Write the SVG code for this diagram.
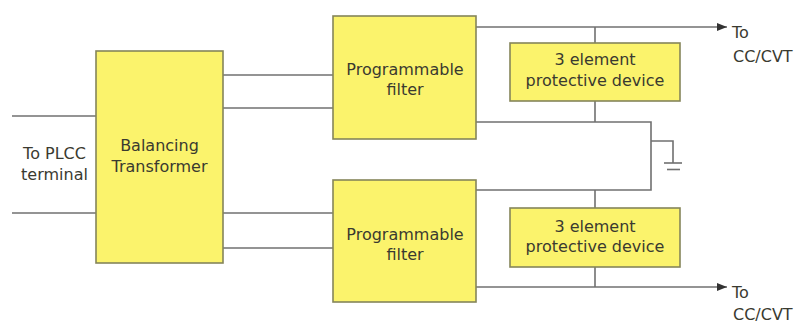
<svg xmlns="http://www.w3.org/2000/svg" width="804" height="323" viewBox="0 0 804 323">
<defs>
<style>
.box{fill:#fbf36c;stroke:#85855a;stroke-width:1.6}
.ln{fill:none;stroke:#707070;stroke-width:1.6}
.t{font-family:"DejaVu Sans",Verdana,sans-serif;font-size:16px;fill:#3a3a30;text-anchor:middle}
.tl{font-family:"DejaVu Sans",Verdana,sans-serif;font-size:16px;fill:#3a3a30}
</style>
<marker id="arr" viewBox="0 0 10 8" refX="10" refY="4" markerWidth="10" markerHeight="8" markerUnits="userSpaceOnUse" orient="auto">
<path d="M0,0 L10,4 L0,8 Z" fill="#333"/>
</marker>
</defs>
<rect width="804" height="323" fill="#fff"/>
<g id="connectors">
<line class="ln" x1="12" y1="116" x2="96" y2="116"/>
<line class="ln" x1="12" y1="213" x2="96" y2="213"/>
<line class="ln" x1="223" y1="75" x2="333" y2="75"/>
<line class="ln" x1="223" y1="108" x2="333" y2="108"/>
<line class="ln" x1="223" y1="213" x2="333" y2="213"/>
<line class="ln" x1="223" y1="248" x2="333" y2="248"/>
<line class="ln" x1="476" y1="27" x2="727" y2="27" marker-end="url(#arr)"/>
<line class="ln" x1="476" y1="287" x2="727" y2="287" marker-end="url(#arr)"/>
<line class="ln" x1="595" y1="27" x2="595" y2="43"/>
<line class="ln" x1="595" y1="101" x2="595" y2="122"/>
<line class="ln" x1="595" y1="190" x2="595" y2="208"/>
<line class="ln" x1="595" y1="267" x2="595" y2="287"/>
<polyline class="ln" points="476,122 651,122 651,190 476,190"/>
<polyline class="ln" points="651,141 673,141 673,163"/>
<line class="ln" x1="664" y1="163" x2="682" y2="163"/>
<line class="ln" x1="667" y1="169.5" x2="680" y2="169.5"/>
</g>
<g id="plcc">
<text class="t" x="54.5" y="159">To PLCC</text>
<text class="t" x="54.5" y="180">terminal</text>
</g>
<g id="balancing">
<rect class="box" x="96" y="51" width="127" height="212"/>
<text class="t" x="159.5" y="151">Balancing</text>
<text class="t" x="159.5" y="172">Transformer</text>
</g>
<g id="filter1">
<rect class="box" x="333" y="16" width="143" height="123"/>
<text class="t" x="405" y="75">Programmable</text>
<text class="t" x="405" y="95">filter</text>
</g>
<g id="filter2">
<rect class="box" x="333" y="180" width="143" height="122"/>
<text class="t" x="405" y="240">Programmable</text>
<text class="t" x="405" y="260">filter</text>
</g>
<g id="protect1">
<rect class="box" x="510" y="43" width="170" height="58"/>
<text class="t" x="595" y="65">3 element</text>
<text class="t" x="595" y="86">protective device</text>
</g>
<g id="protect2">
<rect class="box" x="510" y="208" width="170" height="59"/>
<text class="t" x="595" y="231.5">3 element</text>
<text class="t" x="595" y="252">protective device</text>
</g>
<g id="out1">
<text class="tl" x="732" y="38">To</text>
<text class="tl" x="733" y="62">CC/CVT</text>
</g>
<g id="out2">
<text class="tl" x="732" y="298">To</text>
<text class="tl" x="733" y="320">CC/CVT</text>
</g>
</svg>
